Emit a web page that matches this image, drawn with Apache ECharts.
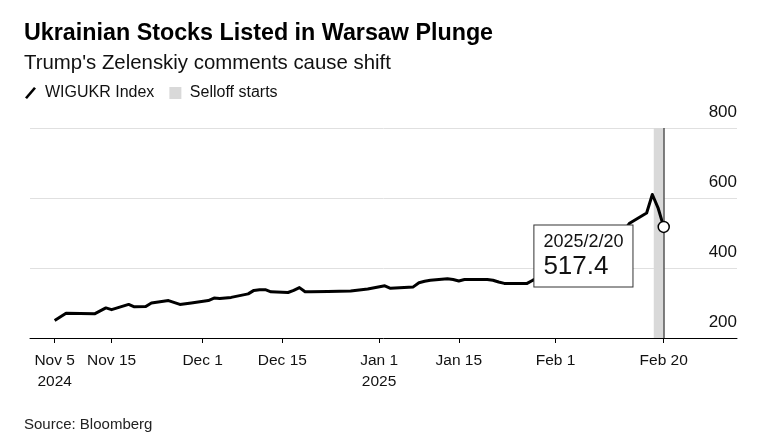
<!DOCTYPE html>
<html>
<head>
<meta charset="utf-8">
<script src="https://cdn.jsdelivr.net/npm/echarts@6/dist/echarts.min.js"></script>
<style>
  html, body { margin: 0; padding: 0; background: #fff; }
  #chart { width: 764px; height: 433px; }
</style>
</head>
<body>
<div id="chart"></div>
<script>
// WIGUKR index closes (values hidden by the callout are estimates)
const dates = [
  "2024-11-05", "2024-11-07", "2024-11-12", "2024-11-14", "2024-11-15",
  "2024-11-18", "2024-11-19", "2024-11-21", "2024-11-22", "2024-11-25",
  "2024-11-27", "2024-11-29", "2024-12-02", "2024-12-03", "2024-12-04",
  "2024-12-06", "2024-12-09", "2024-12-10", "2024-12-11", "2024-12-12",
  "2024-12-13", "2024-12-16", "2024-12-17", "2024-12-18", "2024-12-19",
  "2024-12-20", "2024-12-23", "2024-12-27", "2024-12-30", "2025-01-02",
  "2025-01-03", "2025-01-07", "2025-01-08", "2025-01-09", "2025-01-10",
  "2025-01-13", "2025-01-14", "2025-01-15", "2025-01-16", "2025-01-17",
  "2025-01-20", "2025-01-21", "2025-01-22", "2025-01-23", "2025-01-24",
  "2025-01-27", "2025-01-28", "2025-01-29", "2025-01-30", "2025-01-31",
  "2025-02-03", "2025-02-04", "2025-02-05", "2025-02-06", "2025-02-07",
  "2025-02-10", "2025-02-11", "2025-02-12", "2025-02-13", "2025-02-14",
  "2025-02-17", "2025-02-18", "2025-02-19", "2025-02-20"
];
const wigukr = [
  250, 271, 269, 286, 281,
  296, 289, 290, 300, 307,
  296, 300, 307, 314, 313,
  316, 326, 336, 338, 338,
  332, 330, 336, 344, 332,
  332, 333, 334, 340, 349,
  342, 346, 358, 362, 365,
  369, 367, 363, 367, 367,
  367, 365, 360, 356, 356,
  356, 365, 372, 378, 384,
  395, 402, 410, 418, 425,
  440, 458, 480, 505, 528,
  557, 610, 572, 517.4
];
const selloff = ["2025-02-18T06:00", "2025-02-20"];
const tickDates = ["2024-11-05", "2024-11-15", "2024-12-01", "2024-12-15",
                   "2025-01-01", "2025-01-15", "2025-02-01", "2025-02-20"];
const tickLabels = ["Nov 5\n2024", "Nov 15", "Dec 1", "Dec 15",
                    "Jan 1\n2025", "Jan 15", "Feb 1", "Feb 20"];
const yTicks = [200, 400, 600, 800];

const font = "'Liberation Sans', Arial, Helvetica, sans-serif";
const t = d => +echarts.time.parse(d);
const tickTimes = tickDates.map(t);
const lastTime = t(dates[dates.length - 1]);
const lastValue = wigukr[wigukr.length - 1];

const chart = echarts.init(document.getElementById("chart"), null, { renderer: "canvas" });

chart.setOption({
  animation: false,
  textStyle: { fontFamily: font },
  title: [
    {
      text: "Ukrainian Stocks Listed in Warsaw Plunge",
      left: 24, top: 22, padding: 0,
      textStyle: { fontSize: 23.3, fontWeight: "bold", color: "#000", fontFamily: font }
    },
    {
      text: "Trump's Zelenskiy comments cause shift",
      left: 24, top: 53, padding: 0,
      textStyle: { fontSize: 20.4, fontWeight: "normal", color: "#111", fontFamily: font }
    },
    {
      text: "Source: Bloomberg",
      left: 24, top: 417, padding: 0,
      textStyle: { fontSize: 15, fontWeight: "normal", color: "#222", fontFamily: font }
    }
  ],
  legend: {
    left: 25, top: 85, padding: 0,
    itemWidth: 19, itemHeight: 12, itemGap: 15,
    textStyle: { fontSize: 16, color: "#111", fontFamily: font },
    data: [
      { name: "WIGUKR Index", icon: "path://M0,10.5 L9,0 L11,1.5 L2,12 Z" },
      { name: "Selloff starts", icon: "path://M0,0 H10 V10 H0 Z" }
    ]
  },
  grid: { left: 30, right: 27, top: 128, bottom: 95 },
  xAxis: {
    type: "value",
    min: t("2024-10-31T16:00"),
    max: t("2025-03-04T21:00"),
    splitLine: { show: false },
    axisLine: { lineStyle: { color: "#000", width: 1 } },
    axisTick: { show: true, length: 5, lineStyle: { color: "#000" }, customValues: tickTimes },
    axisLabel: {
      customValues: tickTimes,
      margin: 12,
      fontSize: 15.5,
      lineHeight: 21,
      color: "#111",
      fontFamily: font,
      formatter: v => {
        const i = tickTimes.indexOf(+v);
        return i >= 0 ? tickLabels[i] : "";
      }
    }
  },
  yAxis: {
    type: "value",
    position: "right",
    min: yTicks[0],
    max: yTicks[yTicks.length - 1],
    interval: 200,
    axisLine: { show: false },
    axisTick: { show: false },
    splitLine: { lineStyle: { color: "#e0e0e0", width: 1 } },
    axisLabel: {
      inside: true,
      margin: 0,
      verticalAlign: "bottom",
      padding: [0, 0, 7, 0],
      fontSize: 17,
      color: "#111",
      fontFamily: font
    }
  },
  series: [
    {
      name: "Selloff starts",
      type: "line",
      color: "#d9d9d9",
      data: [],
      markArea: {
        silent: true,
        itemStyle: { color: "#d9d9d9" },
        data: [[{ xAxis: t(selloff[0]) }, { xAxis: t(selloff[1]) }]]
      },
      markLine: {
        silent: true,
        symbol: "none",
        label: { show: false },
        lineStyle: { color: "#555", width: 1.5, type: "solid" },
        data: [{ xAxis: t(selloff[1]) }]
      }
    },
    {
      name: "WIGUKR Index",
      type: "line",
      color: "#000",
      symbol: "none",
      z: 3,
      lineStyle: { color: "#000", width: 3, join: "round" },
      data: dates.map((d, i) => [t(d), wigukr[i]]),
      markPoint: {
        z: 10,
        silent: true,
        data: [{
          coord: [lastTime, lastValue],
          symbol: "circle",
          symbolSize: 11,
          itemStyle: { color: "#fff", borderColor: "#000", borderWidth: 1.5 },
          label: {
            show: true,
            position: "left",
            distance: 25,
            offset: [0, 29],
            backgroundColor: "#fff",
            borderColor: "#333",
            borderWidth: 1,
            padding: [6, 9, 6, 9],
            formatter: "{d|2025/2/20}\n{v|" + lastValue + "}",
            rich: {
              d: { fontSize: 18, color: "#111", lineHeight: 21, align: "left", fontFamily: font },
              v: { fontSize: 26, color: "#111", lineHeight: 28, align: "left", fontFamily: font }
            }
          }
        }]
      }
    }
  ]
});
</script>
</body>
</html>
